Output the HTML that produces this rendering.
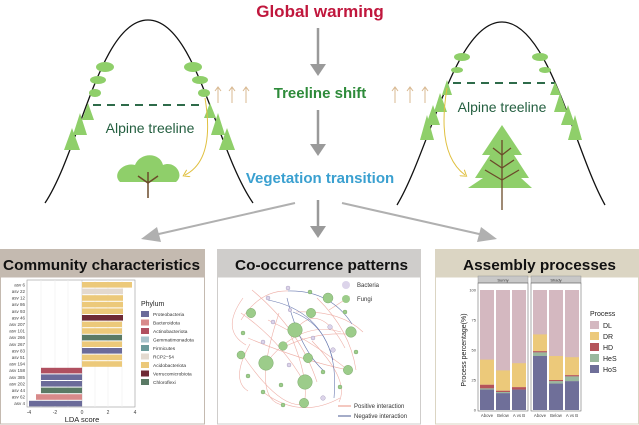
<!DOCTYPE html>
<html><head><meta charset="utf-8"><style>
html,body{margin:0;padding:0;background:#fff;}
svg{display:block;font-family:"Liberation Sans",sans-serif;}
</style></head><body>
<svg width="639" height="425" viewBox="0 0 639 425" xmlns="http://www.w3.org/2000/svg">
<defs>
<marker id="ya" markerWidth="8" markerHeight="8" refX="4" refY="4" orient="auto" markerUnits="userSpaceOnUse"><path d="M0,0 L6,4 L0,8" fill="none" stroke="#e0c040" stroke-width="1"/></marker>
</defs>
<text x="320" y="17" text-anchor="middle" font-size="17" font-weight="bold" fill="#c0173d">Global warming</text>
<text x="320" y="98" text-anchor="middle" font-size="15" font-weight="bold" fill="#2e8b3a">Treeline shift</text>
<text x="320" y="183" text-anchor="middle" font-size="15" font-weight="bold" fill="#3aa0d0">Vegetation transition</text>
<g stroke="#9a9a9a" stroke-width="2.5" fill="#9a9a9a">
<line x1="318" y1="28" x2="318" y2="66"/><path d="M310,64 L326,64 L318,76 z" stroke="none"/>
<line x1="318" y1="110" x2="318" y2="146"/><path d="M310,144 L326,144 L318,156 z" stroke="none"/>
<line x1="318" y1="200" x2="318" y2="228"/><path d="M310,226 L326,226 L318,238 z" stroke="none"/>
</g>
<g stroke="#b0b0b0" stroke-width="2" fill="#b0b0b0">
<line x1="295" y1="203" x2="150" y2="236"/><path d="M157,227 L141,239 L161,242 z" stroke="none"/>
<line x1="342" y1="203" x2="488" y2="236"/><path d="M481,227 L497,239 L477,242 z" stroke="none"/>
</g>
<path d="M45,203 C80,150 100,20 148,20 C196,20 216,150 253,203" fill="none" stroke="#111" stroke-width="1.3"/>
<line x1="93" y1="105" x2="200" y2="105" stroke="#2e6b4a" stroke-width="2" stroke-dasharray="8,6"/>
<text x="150" y="133" text-anchor="middle" font-size="14" fill="#245f40">Alpine treeline</text>
<g fill="#8fcf6a">
<ellipse cx="105" cy="67" rx="9" ry="5"/><ellipse cx="98" cy="80" rx="8" ry="4"/><ellipse cx="95" cy="93" rx="6" ry="4"/>
<ellipse cx="193" cy="67" rx="9" ry="5"/><ellipse cx="200" cy="80" rx="8" ry="4"/><ellipse cx="204" cy="93" rx="6" ry="4"/>
<path d="M88,103 L82,120 L94,120 z M80,113 L73,135 L87,135 z M72,128 L64,150 L80,150 z"/>
<path d="M210,103 L204,118 L216,118 z M218,113 L211,135 L225,135 z M227,128 L219,150 L235,150 z"/>
<path d="M120,182 C112,175 122,162 135,165 C140,152 160,152 163,165 C175,160 185,175 176,182 z"/>
</g>
<g stroke="#6b4a2a" stroke-width="1.5"><line x1="148" y1="198" x2="148" y2="172"/><line x1="148" y1="183" x2="138" y2="176"/><line x1="148" y1="183" x2="158" y2="176"/></g>
<path d="M205,98 C212,140 205,165 185,175" fill="none" stroke="#e0c040" stroke-width="1" marker-end="url(#ya)"/>
<g stroke="#d8b890" stroke-width="1" fill="none">
<line x1="218" y1="103" x2="218" y2="88"/><path d="M215,91 L218,87 L221,91"/>
<line x1="232" y1="103" x2="232" y2="88"/><path d="M229,91 L232,87 L235,91"/>
<line x1="246" y1="103" x2="246" y2="88"/><path d="M243,91 L246,87 L249,91"/>
<line x1="395" y1="103" x2="395" y2="88"/><path d="M392,91 L395,87 L398,91"/>
<line x1="410" y1="103" x2="410" y2="88"/><path d="M407,91 L410,87 L413,91"/>
<line x1="425" y1="103" x2="425" y2="88"/><path d="M422,91 L425,87 L428,91"/>
</g>
<path d="M397,205 C430,150 455,22 502,22 C549,22 574,150 605,205" fill="none" stroke="#111" stroke-width="1.3"/>
<line x1="453" y1="83" x2="555" y2="83" stroke="#2e6b4a" stroke-width="2" stroke-dasharray="8,6"/>
<text x="502" y="112" text-anchor="middle" font-size="14" fill="#245f40">Alpine treeline</text>
<g fill="#8fcf6a">
<ellipse cx="462" cy="57" rx="8" ry="4"/><ellipse cx="457" cy="70" rx="6" ry="3"/>
<ellipse cx="540" cy="57" rx="8" ry="4"/><ellipse cx="545" cy="70" rx="6" ry="3"/>
<path d="M447,80 L442,95 L452,95 z M440,93 L434,112 L447,112 z M433,105 L426,125 L440,125 z M427,115 L420,140 L434,140 z"/>
<path d="M555,82 L550,95 L561,95 z M560,93 L554,112 L567,112 z M568,105 L561,125 L575,125 z M575,115 L568,140 L582,140 z"/>
<path d="M502,125 L482,155 L490,155 L475,178 L483,178 L468,188 L532,188 L521,178 L529,178 L514,155 L522,155 z"/>
</g>
<g stroke="#6b4a2a" stroke-width="1.3"><line x1="502" y1="210" x2="502" y2="140"/><line x1="502" y1="155" x2="493" y2="148"/><line x1="502" y1="155" x2="511" y2="148"/><line x1="502" y1="168" x2="490" y2="160"/><line x1="502" y1="168" x2="514" y2="160"/><line x1="502" y1="180" x2="485" y2="170"/><line x1="502" y1="180" x2="519" y2="170"/></g>
<path d="M447,88 C440,130 445,160 465,175" fill="none" stroke="#e0c040" stroke-width="1" marker-end="url(#ya)"/>

<!-- Panel 1 -->
<rect x="0" y="249" width="205" height="28" fill="#c4bab0"/>
<rect x="0.5" y="277" width="204" height="147" fill="#fff" stroke="#c4bab0"/>
<text x="3" y="270" font-size="15" font-weight="bold" fill="#111" textLength="197" lengthAdjust="spacingAndGlyphs">Community characteristics</text>
<rect x="27" y="280" width="108" height="127" fill="#fff" stroke="#999" stroke-width="0.6"/>
<g stroke="#eee" stroke-width="0.6"><line x1="41" y1="280" x2="41" y2="407"/><line x1="55" y1="280" x2="55" y2="407"/><line x1="68" y1="280" x2="68" y2="407"/><line x1="95" y1="280" x2="95" y2="407"/><line x1="108" y1="280" x2="108" y2="407"/><line x1="122" y1="280" x2="122" y2="407"/></g>
<line x1="82" y1="280" x2="82" y2="407" stroke="#bbb" stroke-width="0.5"/>
<g>
<rect x="82" y="282" width="50" height="5.6" fill="#ecc97a"/>
<rect x="82" y="288.6" width="41" height="5.6" fill="#e3d9cf"/>
<rect x="82" y="295.2" width="41" height="5.6" fill="#ecc97a"/>
<rect x="82" y="301.8" width="41" height="5.6" fill="#ecc97a"/>
<rect x="82" y="308.4" width="41" height="5.6" fill="#ecc97a"/>
<rect x="82" y="315" width="41" height="5.6" fill="#6e2a35"/>
<rect x="82" y="321.6" width="40" height="5.6" fill="#ecc97a"/>
<rect x="82" y="328.2" width="40" height="5.6" fill="#ecc97a"/>
<rect x="82" y="334.8" width="40" height="5.6" fill="#5a7a65"/>
<rect x="82" y="341.4" width="40" height="5.6" fill="#ecc97a"/>
<rect x="82" y="348" width="40" height="5.6" fill="#6b6b9a"/>
<rect x="82" y="354.6" width="40" height="5.6" fill="#ecc97a"/>
<rect x="82" y="361.2" width="40" height="5.6" fill="#ecc97a"/>
<rect x="41" y="367.8" width="41" height="5.6" fill="#b05060"/>
<rect x="41" y="374.4" width="41" height="5.6" fill="#6b6b9a"/>
<rect x="41" y="381" width="41" height="5.6" fill="#6b6b9a"/>
<rect x="41" y="387.6" width="41" height="5.6" fill="#5a7a65"/>
<rect x="36" y="394.2" width="46" height="5.6" fill="#d88a8a"/>
<rect x="29" y="400.8" width="53" height="5.6" fill="#6b6b9a"/>
</g>
<g font-size="4.5" fill="#444" text-anchor="end">
<text x="25" y="286.5">asv 6</text><text x="25" y="293">asv 22</text><text x="25" y="299.6">asv 12</text><text x="25" y="306.2">asv 86</text><text x="25" y="312.8">asv 93</text><text x="25" y="319.4">asv 46</text><text x="25" y="326">asv 207</text><text x="25" y="332.6">asv 101</text><text x="25" y="339.2">asv 266</text><text x="25" y="345.8">asv 267</text><text x="25" y="352.4">asv 83</text><text x="25" y="359">asv 51</text><text x="25" y="365.6">asv 194</text><text x="25" y="372.2">asv 158</text><text x="25" y="378.8">asv 385</text><text x="25" y="385.4">asv 202</text><text x="25" y="392">asv 44</text><text x="25" y="398.6">asv 62</text><text x="25" y="405.2">asv 4</text>
</g>
<g font-size="5" fill="#444" text-anchor="middle"><text x="29" y="414">-4</text><text x="55" y="414">-2</text><text x="82" y="414">0</text><text x="108" y="414">2</text><text x="135" y="414">4</text></g>
<text x="82" y="422" text-anchor="middle" font-size="7.5" fill="#222">LDA score</text>
<text x="141" y="306" font-size="7" fill="#222">Phylum</text>
<g font-size="4.8" fill="#333">
<rect x="141" y="311" width="8" height="6" fill="#6b6b9a"/><text x="153" y="316">Proteobacteria</text>
<rect x="141" y="319.5" width="8" height="6" fill="#d88a8a"/><text x="153" y="324.5">Bacteroidota</text>
<rect x="141" y="328" width="8" height="6" fill="#b05060"/><text x="153" y="333">Actinobacteriota</text>
<rect x="141" y="336.5" width="8" height="6" fill="#a8c4cc"/><text x="153" y="341.5">Gemmatimonadota</text>
<rect x="141" y="345" width="8" height="6" fill="#6a9a9a"/><text x="153" y="350">Firmicutes</text>
<rect x="141" y="353.5" width="8" height="6" fill="#e3d9cf"/><text x="153" y="358.5">RCP2−54</text>
<rect x="141" y="362" width="8" height="6" fill="#ecc97a"/><text x="153" y="367">Acidobacteriota</text>
<rect x="141" y="370.5" width="8" height="6" fill="#6e2a35"/><text x="153" y="375.5">Verrucomicrobiota</text>
<rect x="141" y="379" width="8" height="6" fill="#5a7a65"/><text x="153" y="384">Chloroflexi</text>
</g>

<!-- Panel 2 -->
<rect x="217" y="249" width="204" height="28" fill="#cfcdcb"/>
<rect x="217.5" y="277" width="203" height="147" fill="#fff" stroke="#cfcdcb"/>
<text x="235" y="270" font-size="15" font-weight="bold" fill="#111" textLength="173" lengthAdjust="spacingAndGlyphs">Co-occurrence patterns</text>
<g fill="none" stroke="#eeb0a8" stroke-width="0.6">
<path d="M295,330 Q320,300 345,348"/><path d="M266,363 Q300,320 341,332"/><path d="M252,290 Q300,330 317,382"/><path d="M241,313 Q280,340 304,382"/>
<path d="M268,320 Q310,340 348,370"/><path d="M289,331 Q310,380 304,404"/><path d="M242,354 Q280,410 304,404"/><path d="M279,313 Q250,400 283,405"/>
<path d="M248,338 Q300,360 348,370"/><path d="M296,312 Q340,310 363,332"/><path d="M317,298 Q350,330 356,370"/><path d="M329,310 Q360,290 344,300"/>
<path d="M250,344 Q230,380 248,391"/><path d="M263,392 Q300,420 340,398"/><path d="M241,320 Q260,290 288,291"/><path d="M312,341 Q350,380 339,402"/>
<path d="M286,346 Q320,330 356,335"/><path d="M243,298 Q220,330 246,345"/>
</g>
<g fill="none" stroke="#6a7ab0" stroke-width="0.6">
<path d="M268,300 Q320,310 333,360"/><path d="M293,312 Q340,330 334,398"/><path d="M288,291 Q330,290 352,324"/><path d="M287,298 Q300,350 325,372"/>
</g>
<g fill="#9ccc8a" stroke="#7faa70" stroke-width="0.5">
<circle cx="295" cy="330" r="7.3"/><circle cx="266" cy="363" r="7.3"/><circle cx="305" cy="382" r="7.3"/><circle cx="328" cy="298" r="5"/>
<circle cx="251" cy="313" r="4.7"/><circle cx="311" cy="313" r="4.7"/><circle cx="351" cy="332" r="5.3"/><circle cx="283" cy="346" r="4.3"/>
<circle cx="308" cy="358" r="4.7"/><circle cx="348" cy="370" r="4.7"/><circle cx="241" cy="355" r="4"/><circle cx="304" cy="403" r="4.7"/>
<circle cx="243" cy="333" r="2"/><circle cx="310" cy="292" r="2"/><circle cx="345" cy="312" r="2"/><circle cx="248" cy="376" r="2"/>
<circle cx="281" cy="385" r="2"/><circle cx="263" cy="392" r="2"/><circle cx="340" cy="387" r="2"/><circle cx="356" cy="352" r="2"/>
<circle cx="283" cy="405" r="2"/><circle cx="323" cy="372" r="2"/>
</g>
<g fill="#dcd4ea" stroke="#aaa0c0" stroke-width="0.5">
<circle cx="288" cy="288" r="2"/><circle cx="268" cy="298" r="2"/><circle cx="290" cy="310" r="1.8"/><circle cx="273" cy="322" r="2"/>
<circle cx="263" cy="342" r="2"/><circle cx="313" cy="338" r="2"/><circle cx="333" cy="350" r="2.3"/><circle cx="330" cy="327" r="2.3"/>
<circle cx="289" cy="365" r="2"/><circle cx="323" cy="398" r="2.3"/>
</g>
<g font-size="6" fill="#333">
<circle cx="346" cy="285" r="4" fill="#dcd4ea"/><text x="357" y="287">Bacteria</text>
<circle cx="346" cy="299" r="4" fill="#9ccc8a"/><text x="357" y="301">Fungi</text>
<line x1="338" y1="406" x2="351" y2="406" stroke="#e89080" stroke-width="1"/><text x="354" y="408">Positive interaction</text>
<line x1="338" y1="416" x2="351" y2="416" stroke="#4a5a90" stroke-width="1"/><text x="354" y="418">Negative interaction</text>
</g>

<!-- Panel 3 -->
<rect x="435" y="249" width="204" height="28" fill="#dbd5c3"/>
<rect x="435.5" y="277" width="203" height="147" fill="#fff" stroke="#dbd5c3"/>
<text x="463" y="270" font-size="15" font-weight="bold" fill="#111" textLength="153" lengthAdjust="spacingAndGlyphs">Assembly processes</text>
<rect x="478" y="276" width="50" height="7" fill="#c8c8c8" stroke="#888" stroke-width="0.4"/>
<rect x="531" y="276" width="50" height="7" fill="#c8c8c8" stroke="#888" stroke-width="0.4"/>
<text x="503" y="281.5" text-anchor="middle" font-size="4" fill="#333">Sunny</text>
<text x="556" y="281.5" text-anchor="middle" font-size="4" fill="#333">Shady</text>
<rect x="478" y="283" width="50" height="128" fill="none" stroke="#555" stroke-width="0.5"/>
<rect x="531" y="283" width="50" height="128" fill="none" stroke="#555" stroke-width="0.5"/>
<g>
<rect x="480" y="290" width="14" height="120" fill="#d4b8c0"/><rect x="480" y="359.6" width="14" height="25.2" fill="#ecc97a"/><rect x="480" y="384.8" width="14" height="3.6" fill="#b5545a"/><rect x="480" y="388.4" width="14" height="1.2" fill="#9ab89e"/><rect x="480" y="389.6" width="14" height="20.4" fill="#6f6f99"/>
<rect x="496" y="290" width="14" height="120" fill="#d4b8c0"/><rect x="496" y="370.4" width="14" height="20.4" fill="#ecc97a"/><rect x="496" y="390.8" width="14" height="1.2" fill="#b5545a"/><rect x="496" y="392" width="14" height="1.2" fill="#9ab89e"/><rect x="496" y="393.2" width="14" height="16.8" fill="#6f6f99"/>
<rect x="512" y="290" width="14" height="120" fill="#d4b8c0"/><rect x="512" y="363.2" width="14" height="24" fill="#ecc97a"/><rect x="512" y="387.2" width="14" height="2.4" fill="#b5545a"/><rect x="512" y="389.6" width="14" height="20.4" fill="#6f6f99"/>
<rect x="533" y="290" width="14" height="120" fill="#d4b8c0"/><rect x="533" y="334.4" width="14" height="16.8" fill="#ecc97a"/><rect x="533" y="351.2" width="14" height="1.2" fill="#b5545a"/><rect x="533" y="352.4" width="14" height="3.6" fill="#9ab89e"/><rect x="533" y="356" width="14" height="54" fill="#6f6f99"/>
<rect x="549" y="290" width="14" height="120" fill="#d4b8c0"/><rect x="549" y="356" width="14" height="24" fill="#ecc97a"/><rect x="549" y="380" width="14" height="1.2" fill="#b5545a"/><rect x="549" y="381.2" width="14" height="2.4" fill="#9ab89e"/><rect x="549" y="383.6" width="14" height="26.4" fill="#6f6f99"/>
<rect x="565" y="290" width="14" height="120" fill="#d4b8c0"/><rect x="565" y="357.2" width="14" height="18" fill="#ecc97a"/><rect x="565" y="375.2" width="14" height="1.2" fill="#b5545a"/><rect x="565" y="376.4" width="14" height="4.8" fill="#9ab89e"/><rect x="565" y="381.2" width="14" height="28.8" fill="#6f6f99"/>
</g>
<g font-size="4" fill="#444" text-anchor="end"><text x="476" y="291.5">100</text><text x="476" y="321.5">75</text><text x="476" y="351.5">50</text><text x="476" y="381.5">25</text><text x="476" y="411.5">0</text></g>
<g font-size="4.3" fill="#444" text-anchor="middle"><text x="487" y="417">Above</text><text x="503" y="417">Below</text><text x="519" y="417">A vs B</text><text x="540" y="417">Above</text><text x="556" y="417">Below</text><text x="572" y="417">A vs B</text></g>
<text transform="translate(466,350) rotate(-90)" text-anchor="middle" font-size="7" fill="#222">Process percentage(%)</text>
<text x="590" y="316" font-size="7" fill="#222">Process</text>
<g font-size="7" fill="#222">
<rect x="590" y="321" width="9" height="8" fill="#d4b8c0"/><text x="603" y="328">DL</text>
<rect x="590" y="332" width="9" height="8" fill="#ecc97a"/><text x="603" y="339">DR</text>
<rect x="590" y="343" width="9" height="8" fill="#b5545a"/><text x="603" y="350">HD</text>
<rect x="590" y="354" width="9" height="8" fill="#9ab89e"/><text x="603" y="361">HeS</text>
<rect x="590" y="365" width="9" height="8" fill="#6f6f99"/><text x="603" y="372">HoS</text>
</g>
</svg>
</body></html>
